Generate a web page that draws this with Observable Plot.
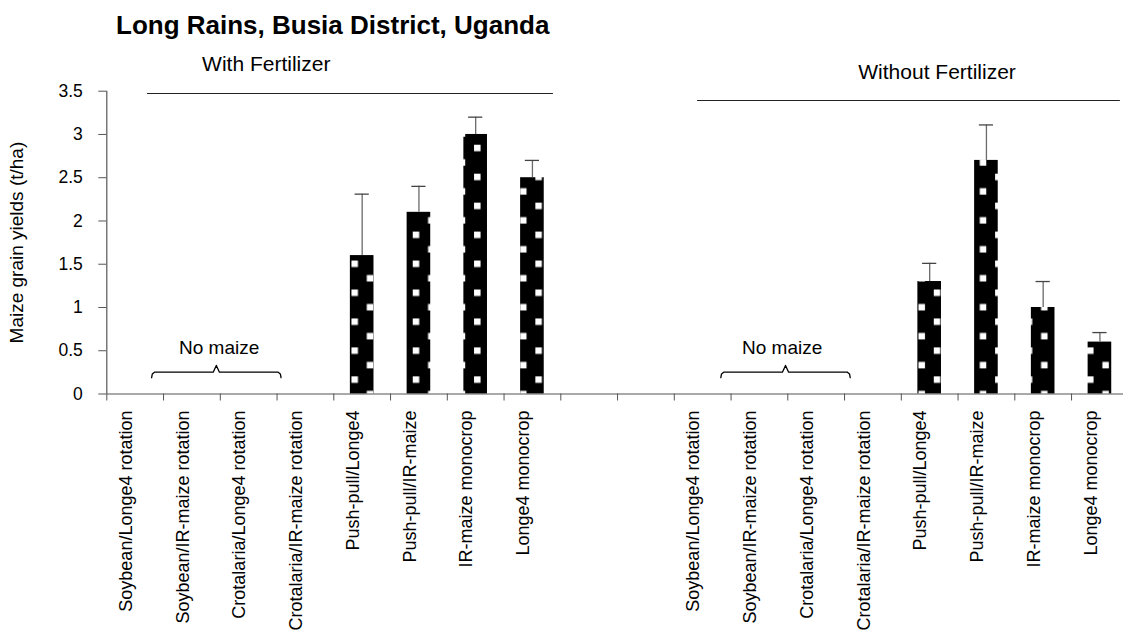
<!DOCTYPE html>
<html>
<head>
<meta charset="utf-8">
<script src="https://cdn.jsdelivr.net/npm/d3@7"></script>
<script src="https://cdn.jsdelivr.net/npm/@observablehq/plot@0.6"></script>
<style>
html, body { margin: 0; padding: 0; background: #fff; overflow: hidden; }
#title { position: absolute; left: 116px; top: 12px; font: bold 26px/26px "Liberation Sans", Arial, sans-serif; color: #000; white-space: nowrap; }
#chart { position: absolute; left: 0; top: 40px; }
</style>
</head>
<body>
<div id="title">Long Rains, Busia District, Uganda</div>
<div id="chart"></div>
<script>
// ---- data ----
const groups = ["With Fertilizer", "Without Fertilizer"];
const treatments = [
  "Soybean/Longe4 rotation",
  "Soybean/IR-maize rotation",
  "Crotalaria/Longe4 rotation",
  "Crotalaria/IR-maize rotation",
  "Push-pull/Longe4",
  "Push-pull/IR-maize",
  "IR-maize monocrop",
  "Longe4 monocrop"
];
const yieldWith    = [null, null, null, null, 1.6, 2.1, 3.0, 2.5];
const errWith      = [null, null, null, null, 0.71, 0.3, 0.2, 0.2];
const yieldWithout = [null, null, null, null, 1.3, 2.7, 1.0, 0.6];
const errWithout   = [null, null, null, null, 0.21, 0.41, 0.3, 0.11];
const yTicks = [0, 0.5, 1, 1.5, 2, 2.5, 3, 3.5];
const yLabel = "Maize grain yields (t/ha)";
const noMaize = "No maize";

// ---- layout ----
const W = 1123, H = 595, ML = 106.3, MT = 50.7, MB = 241.5, SLOT = 56.75;
const GROUP_OFFSET = 10;
const FONT = "'Liberation Sans', Arial, Helvetica, sans-serif";

const rows = [];
[yieldWith, yieldWithout].forEach((vals, g) => {
  const errs = g ? errWithout : errWith;
  treatments.forEach((t, i) => rows.push({
    group: groups[g], treatment: t, slot: g * GROUP_OFFSET + i, value: vals[i], err: errs[i]
  }));
});
const bars = rows.filter(d => d.value != null);
const half = 0.208, cap = 0.125;

// header annotations (positions in slot / value units)
const headers = [
  {text: groups[0], x: 2.81, y: 3.739},
  {text: groups[1], x: 14.63, y: 3.643}
];
const headerLines = [
  {x1: 0.717, x2: 7.87, y: 3.473},
  {x1: 10.41, x2: 17.86, y: 3.392}
];
function brace(x0, x1, xp, g) {
  const yb = 0.19, yl = 0.252, yp = 0.33;
  return [[x0, yb], [x0 + 0.012, 0.232], [x0 + 0.05, yl], [xp - 0.055, yl], [xp, yp],
          [xp + 0.055, yl], [x1 - 0.05, yl], [x1 - 0.012, 0.232], [x1, yb]]
    .map(([x, y]) => ({x, y, g}));
}
const braces = [0, 1].flatMap(g => brace(0.79 + g * 10.03, 3.07 + g * 10.03, 1.93 + g * 10.03, g));
const noMaizeLabels = [{x: 1.98, y: 0.465}, {x: 11.9, y: 0.465}];

const plot = Plot.plot({
  width: W, height: H,
  marginLeft: ML, marginRight: 0, marginTop: MT, marginBottom: MB,
  style: {fontFamily: FONT, fontSize: "17px", color: "#000", background: "#fff", overflow: "visible"},
  x: {domain: [0, (W - ML) / SLOT]},
  y: {domain: [0, 3.5]},
  marks: [
    Plot.rectY(bars, {
      x1: d => d.slot + 0.5 - half, x2: d => d.slot + 0.5 + half,
      y1: 0, y2: "value", fill: "url(#dots)"
    }),
    Plot.ruleX(bars, {x: d => d.slot + 0.5, y1: "value", y2: d => d.value + d.err, stroke: "#6a6a6a", strokeWidth: 1.3}),
    Plot.ruleY(bars, {y: d => d.value + d.err, x1: d => d.slot + 0.5 - cap, x2: d => d.slot + 0.5 + cap, stroke: "#444", strokeWidth: 1.3}),
    Plot.ruleY([0], {stroke: "#555", strokeWidth: 1.2}),
    Plot.ruleX([0], {stroke: "#555", strokeWidth: 1.2}),
    Plot.axisY({ticks: yTicks, tickFormat: d => String(d), tickSize: 8, tickPadding: 16, fontSize: 17.5, stroke: "#555", fill: "#000", label: null}),
    Plot.axisX({ticks: d3.range(0, 18), tickFormat: () => "", tickSize: 7, stroke: "#555", label: null}),
    Plot.text(rows, {x: d => d.slot + 0.5, y: 0, text: "treatment", rotate: -90, textAnchor: "end", dy: 16.5, dx: -9, fontSize: 18, fill: "#000"}),
    Plot.text([yLabel], {frameAnchor: "left", textAnchor: "middle", rotate: -90, dx: -89.6, fontSize: 19, fill: "#000"}),
    Plot.text(headers, {x: "x", y: "y", text: "text", lineAnchor: "bottom", fontSize: 21, fill: "#000"}),
    Plot.ruleY(headerLines, {y: "y", x1: "x1", x2: "x2", stroke: "#222", strokeWidth: 1.1}),
    Plot.line(braces, {x: "x", y: "y", z: "g", stroke: "#000", strokeWidth: 1.3}),
    Plot.text(noMaizeLabels, {x: "x", y: "y", text: () => noMaize, lineAnchor: "bottom", fontSize: 19, fill: "#000"})
  ]
});

// pattern fill for bars
const defs = d3.select(plot).insert("defs", ":first-child");
const PW = 30.65, PH = 28.95, SQ = 6.5;
const pat = defs.append("pattern").attr("id", "dots").attr("patternUnits", "userSpaceOnUse")
  .attr("x", 14.3).attr("y", 17.9).attr("width", PW).attr("height", PH);
pat.append("rect").attr("width", PW).attr("height", PH).attr("fill", "#000");
pat.append("rect").attr("x", 0).attr("y", 0).attr("width", SQ).attr("height", SQ).attr("fill", "#fff");
pat.append("rect").attr("x", PW / 2).attr("y", PH / 2).attr("width", SQ).attr("height", SQ).attr("fill", "#fff");

document.getElementById("chart").appendChild(plot);
</script>
</body>
</html>
